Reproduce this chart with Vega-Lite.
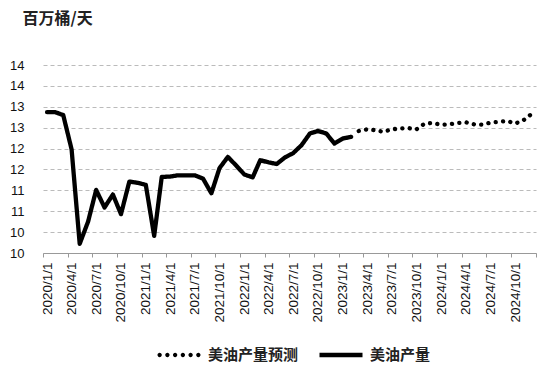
{
  "$schema": "https://vega.github.io/schema/vega-lite/v6.json",
  "width": 493,
  "height": 188,
  "autosize": {"type": "none"},
  "padding": {"left": 43, "top": 65, "right": 2, "bottom": 122},
  "background": "white",
  "config": {"view": {"stroke": null}, "font": "Liberation Sans"},
  "data": {"values": [
    {"date": "2020-01-16", "value": 13.37, "series": "美油产量"},
    {"date": "2020-02-16", "value": 13.37, "series": "美油产量"},
    {"date": "2020-03-16", "value": 13.30, "series": "美油产量"},
    {"date": "2020-04-16", "value": 12.48, "series": "美油产量"},
    {"date": "2020-05-16", "value": 10.22, "series": "美油产量"},
    {"date": "2020-06-16", "value": 10.75, "series": "美油产量"},
    {"date": "2020-07-16", "value": 11.51, "series": "美油产量"},
    {"date": "2020-08-16", "value": 11.09, "series": "美油产量"},
    {"date": "2020-09-16", "value": 11.40, "series": "美油产量"},
    {"date": "2020-10-16", "value": 10.93, "series": "美油产量"},
    {"date": "2020-11-16", "value": 11.71, "series": "美油产量"},
    {"date": "2020-12-16", "value": 11.68, "series": "美油产量"},
    {"date": "2021-01-16", "value": 11.63, "series": "美油产量"},
    {"date": "2021-02-16", "value": 10.41, "series": "美油产量"},
    {"date": "2021-03-16", "value": 11.82, "series": "美油产量"},
    {"date": "2021-04-16", "value": 11.83, "series": "美油产量"},
    {"date": "2021-05-16", "value": 11.86, "series": "美油产量"},
    {"date": "2021-06-16", "value": 11.86, "series": "美油产量"},
    {"date": "2021-07-16", "value": 11.86, "series": "美油产量"},
    {"date": "2021-08-16", "value": 11.78, "series": "美油产量"},
    {"date": "2021-09-16", "value": 11.43, "series": "美油产量"},
    {"date": "2021-10-16", "value": 12.03, "series": "美油产量"},
    {"date": "2021-11-16", "value": 12.30, "series": "美油产量"},
    {"date": "2021-12-16", "value": 12.10, "series": "美油产量"},
    {"date": "2022-01-16", "value": 11.88, "series": "美油产量"},
    {"date": "2022-02-16", "value": 11.81, "series": "美油产量"},
    {"date": "2022-03-16", "value": 12.22, "series": "美油产量"},
    {"date": "2022-04-16", "value": 12.17, "series": "美油产量"},
    {"date": "2022-05-16", "value": 12.13, "series": "美油产量"},
    {"date": "2022-06-16", "value": 12.29, "series": "美油产量"},
    {"date": "2022-07-16", "value": 12.39, "series": "美油产量"},
    {"date": "2022-08-16", "value": 12.58, "series": "美油产量"},
    {"date": "2022-09-16", "value": 12.86, "series": "美油产量"},
    {"date": "2022-10-16", "value": 12.92, "series": "美油产量"},
    {"date": "2022-11-16", "value": 12.86, "series": "美油产量"},
    {"date": "2022-12-16", "value": 12.62, "series": "美油产量"},
    {"date": "2023-01-16", "value": 12.74, "series": "美油产量"},
    {"date": "2023-02-16", "value": 12.78, "series": "美油产量"},
    {"date": "2023-03-16", "value": 12.92, "series": "美油产量预测"},
    {"date": "2023-04-16", "value": 12.96, "series": "美油产量预测"},
    {"date": "2023-05-16", "value": 12.94, "series": "美油产量预测"},
    {"date": "2023-06-16", "value": 12.90, "series": "美油产量预测"},
    {"date": "2023-07-16", "value": 12.96, "series": "美油产量预测"},
    {"date": "2023-08-16", "value": 12.98, "series": "美油产量预测"},
    {"date": "2023-09-16", "value": 12.99, "series": "美油产量预测"},
    {"date": "2023-10-16", "value": 12.96, "series": "美油产量预测"},
    {"date": "2023-11-16", "value": 13.10, "series": "美油产量预测"},
    {"date": "2023-12-16", "value": 13.11, "series": "美油产量预测"},
    {"date": "2024-01-16", "value": 13.07, "series": "美油产量预测"},
    {"date": "2024-02-16", "value": 13.08, "series": "美油产量预测"},
    {"date": "2024-03-16", "value": 13.11, "series": "美油产量预测"},
    {"date": "2024-04-16", "value": 13.13, "series": "美油产量预测"},
    {"date": "2024-05-16", "value": 13.08, "series": "美油产量预测"},
    {"date": "2024-06-16", "value": 13.07, "series": "美油产量预测"},
    {"date": "2024-07-16", "value": 13.12, "series": "美油产量预测"},
    {"date": "2024-08-16", "value": 13.14, "series": "美油产量预测"},
    {"date": "2024-09-16", "value": 13.16, "series": "美油产量预测"},
    {"date": "2024-10-16", "value": 13.10, "series": "美油产量预测"},
    {"date": "2024-11-16", "value": 13.18, "series": "美油产量预测"},
    {"date": "2024-12-16", "value": 13.33, "series": "美油产量预测"}
  ]},
  "encoding": {
    "x": {
      "field": "date",
      "type": "temporal",
      "scale": {"type": "utc", "domain": [{"year": 2020, "month": 1, "date": 1, "utc": true}, {"year": 2025, "month": 1, "date": 1, "utc": true}]},
      "axis": {
        "title": null,
        "grid": false,
        "values": [
          {"year": 2020, "month": 1, "date": 1, "utc": true}, {"year": 2020, "month": 4, "date": 1, "utc": true}, {"year": 2020, "month": 7, "date": 1, "utc": true}, {"year": 2020, "month": 10, "date": 1, "utc": true},
          {"year": 2021, "month": 1, "date": 1, "utc": true}, {"year": 2021, "month": 4, "date": 1, "utc": true}, {"year": 2021, "month": 7, "date": 1, "utc": true}, {"year": 2021, "month": 10, "date": 1, "utc": true},
          {"year": 2022, "month": 1, "date": 1, "utc": true}, {"year": 2022, "month": 4, "date": 1, "utc": true}, {"year": 2022, "month": 7, "date": 1, "utc": true}, {"year": 2022, "month": 10, "date": 1, "utc": true},
          {"year": 2023, "month": 1, "date": 1, "utc": true}, {"year": 2023, "month": 4, "date": 1, "utc": true}, {"year": 2023, "month": 7, "date": 1, "utc": true}, {"year": 2023, "month": 10, "date": 1, "utc": true},
          {"year": 2024, "month": 1, "date": 1, "utc": true}, {"year": 2024, "month": 4, "date": 1, "utc": true}, {"year": 2024, "month": 7, "date": 1, "utc": true}, {"year": 2024, "month": 10, "date": 1, "utc": true},
          {"year": 2025, "month": 1, "date": 1, "utc": true}
        ],
        "labelExpr": "utcyear(datum.value) >= 2025 ? '' : utcFormat(datum.value, '%Y/%-m/%-d')",
        "labelAngle": -90,
        "labelFont": "Liberation Sans",
        "labelFontSize": 13.5,
        "labelColor": "#111",
        "labelPadding": 5,
        "labelOffset": 4,
        "labelFlush": false,
        "labelOverlap": false,
        "tickSize": 4,
        "tickColor": "#999",
        "domainColor": "#999"
      }
    },
    "y": {
      "field": "value",
      "type": "quantitative",
      "scale": {"domain": [10, 14.5], "zero": false, "nice": false},
      "axis": {
        "values": [10, 10.5, 11, 11.5, 12, 12.5, 13, 13.5, 14, 14.5],
        "labelExpr": "floor(datum.value)",
        "domain": false,
        "ticks": false,
        "tickSize": 0,
        "labelPadding": 19,
        "labelFont": "Liberation Sans",
        "labelFontSize": 13,
        "labelColor": "#111",
        "gridDash": [4, 3],
        "gridColor": "#bbb",
        "gridWidth": 1,
        "title": "百万桶/天",
        "titleAngle": 0,
        "titleAlign": "left",
        "titleBaseline": "middle",
        "titleX": -21,
        "titleY": -47,
        "titleFont": "Noto Sans CJK SC",
        "titleFontSize": 16,
        "titleFontWeight": "bold",
        "titleColor": "#222"
      }
    }
  },
  "layer": [
    {
      "mark": {"type": "line", "color": "black", "strokeWidth": 4.3, "strokeCap": "round", "strokeJoin": "round"},
      "encoding": {
        "strokeDash": {
          "field": "series",
          "type": "nominal",
          "scale": {"domain": ["美油产量", "美油产量预测"], "range": [[1, 0], [0.1, 7.3]]},
          "legend": null
        }
      }
    },
    {
      "transform": [{"filter": "datum.value < 0"}],
      "mark": {"type": "point", "filled": true, "color": "black"},
      "encoding": {
        "shape": {
          "field": "series",
          "type": "nominal",
          "scale": {
            "domain": ["美油产量预测", "美油产量"],
            "range": [
              "M -1,0 a 0.1,0.1 0 1,0 0.2,0 a 0.1,0.1 0 1,0 -0.2,0 Z M -0.64,0 a 0.1,0.1 0 1,0 0.2,0 a 0.1,0.1 0 1,0 -0.2,0 Z M -0.28,0 a 0.1,0.1 0 1,0 0.2,0 a 0.1,0.1 0 1,0 -0.2,0 Z M 0.08,0 a 0.1,0.1 0 1,0 0.2,0 a 0.1,0.1 0 1,0 -0.2,0 Z M 0.44,0 a 0.1,0.1 0 1,0 0.2,0 a 0.1,0.1 0 1,0 -0.2,0 Z M 0.8,0 a 0.1,0.1 0 1,0 0.2,0 a 0.1,0.1 0 1,0 -0.2,0 Z",
              "M -1,-0.1 L 1,-0.1 L 1,0.1 L -1,0.1 Z"
            ]
          },
          "legend": {
            "orient": "none",
            "legendX": 114,
            "legendY": 268,
            "direction": "horizontal",
            "title": null,
            "symbolSize": 1850,
            "symbolFillColor": "black",
            "symbolStrokeWidth": 0,
            "symbolOpacity": 1,
            "labelFont": "Noto Sans CJK SC",
            "labelFontSize": 15,
            "labelFontWeight": "bold",
            "labelColor": "#222",
            "labelOffset": 7,
            "columnPadding": 20
          }
        }
      }
    }
  ]
}
